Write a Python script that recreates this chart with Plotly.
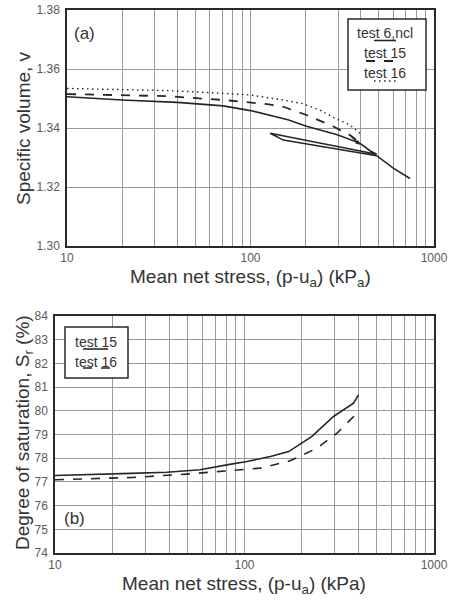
import numpy as np
import plotly.graph_objects as go

# ---------------- data ----------------
# (a) specific volume vs mean net stress
t6_p = [10, 20, 40, 71, 100, 128, 160, 200, 300, 396, 450, 487,
        128, 151, 230, 307, 412, 487, 600, 740]
t6_v = [1.3506, 1.3495, 1.3487, 1.3475, 1.3459, 1.3444, 1.3428, 1.3407, 1.3376, 1.3348, 1.3322, 1.3311,
        1.3382, 1.3359, 1.3340, 1.3328, 1.3314, 1.3306, 1.3264, 1.3229]

t15a_p = [10, 20, 35, 71, 99, 123, 151, 202, 283, 348, 387, 395]
t15a_v = [1.3515, 1.3512, 1.3508, 1.3495, 1.3486, 1.3481, 1.3472, 1.3444, 1.3405, 1.3376, 1.3354, 1.3343]

t16a_p = [10, 20, 35, 60, 99, 151, 194, 240, 283, 348, 395]
t16a_v = [1.3534, 1.3531, 1.3527, 1.3520, 1.3512, 1.3495, 1.3482, 1.3460, 1.3436, 1.3410, 1.3382]

# (b) degree of saturation vs mean net stress
t15b_p = [10, 17.3, 25, 38.9, 58.3, 80.7, 103, 137, 171, 227, 295, 376, 400]
t15b_s = [77.27, 77.31, 77.36, 77.41, 77.51, 77.72, 77.86, 78.07, 78.28, 78.92, 79.76, 80.32, 80.67]

t16b_p = [10, 25.9, 49.6, 87.5, 121, 174, 241, 308, 392]
t16b_s = [77.09, 77.19, 77.33, 77.47, 77.58, 77.89, 78.42, 79.06, 79.90]

x_tickvals = [10, 100, 1000]
x_ticktext = ["10", "100", "1000"]
x_minor = [20, 30, 40, 50, 60, 70, 80, 90, 200, 300, 400, 500, 600, 700, 800, 900]
ya_tickvals = [1.30, 1.32, 1.34, 1.36, 1.38]
yb_tickvals = list(range(74, 85))

# ---------------- figure ----------------
W, H = 449, 605
def px(x):
    return x / W
def py(y):
    return 1 - y / H

LINE = "#262626"
GRID = "#9a9a9a"
FRAME = "#2a2a2a"
TXT = "#333333"
TICK = "#5a5a5a"
FONT = "Liberation Sans, Arial, sans-serif"
DOT = "1.5px,3.5px"

fig = go.Figure()
fig.add_trace(go.Scatter(x=t6_p, y=t6_v, mode="lines", line=dict(color=LINE, width=1.6),
                         xaxis="x", yaxis="y", showlegend=False))
fig.add_trace(go.Scatter(x=t15a_p, y=t15a_v, mode="lines", line=dict(color=LINE, width=1.8, dash="dash"),
                         xaxis="x", yaxis="y", showlegend=False))
fig.add_trace(go.Scatter(x=t16a_p, y=t16a_v, mode="lines", line=dict(color=LINE, width=1.4, dash=DOT),
                         xaxis="x", yaxis="y", showlegend=False))
fig.add_trace(go.Scatter(x=t15b_p, y=t15b_s, mode="lines", line=dict(color=LINE, width=1.6),
                         xaxis="x2", yaxis="y2", showlegend=False))
fig.add_trace(go.Scatter(x=t16b_p, y=t16b_s, mode="lines", line=dict(color=LINE, width=1.6, dash="dash"),
                         xaxis="x2", yaxis="y2", showlegend=False))

def xaxis_cfg(domain, anchor):
    return dict(type="log", domain=domain, anchor=anchor, range=[1, 3],
                tickvals=x_tickvals, ticktext=x_ticktext, ticks="",
                showgrid=True, gridcolor=GRID, gridwidth=1,
                minor=dict(tickvals=x_minor, showgrid=True, gridcolor=GRID, gridwidth=1, ticks=""),
                showline=True, linecolor=FRAME, linewidth=1.5, mirror=True,
                tickfont=dict(family=FONT, size=12, color=TICK), zeroline=False, automargin=False)

def yaxis_cfg(domain, anchor, rng, vals, fmt):
    return dict(domain=domain, anchor=anchor, range=rng, tickvals=vals, tickformat=fmt,
                ticks="outside", ticklen=3, tickcolor="rgba(0,0,0,0)",
                showgrid=True, gridcolor=GRID, gridwidth=1,
                showline=True, linecolor=FRAME, linewidth=1.5, mirror=True,
                tickfont=dict(family=FONT, size=12, color=TICK), zeroline=False, automargin=False)

fig.update_layout(
    width=W, height=H, margin=dict(l=0, r=0, t=0, b=0),
    paper_bgcolor="white", plot_bgcolor="white", template="none",
    xaxis=xaxis_cfg([px(67), px(434)], "y"),
    yaxis=yaxis_cfg([py(246), py(10)], "x", [1.30, 1.38], ya_tickvals, ".2f"),
    xaxis2=xaxis_cfg([px(55), px(434)], "y2"),
    yaxis2=yaxis_cfg([py(553), py(316)], "x2", [74, 84], yb_tickvals, "d"),
    showlegend=False,
)

ann = []
def txt(x, y, s, size, **kw):
    d = dict(xref="paper", yref="paper", x=x, y=y, text=s, showarrow=False,
             font=dict(family=FONT, size=size, color=TXT), xanchor="center", yanchor="middle")
    d.update(kw)
    ann.append(d)

# axis titles
txt(px(250), py(278), "Mean net stress, (p-u<sub>a</sub>) (kP<sub>a</sub>)", 19)
txt(px(244), py(585), "Mean net stress, (p-u<sub>a</sub>) (kPa)", 19)
txt(px(23), py(128), "Specific volume, v", 19, textangle=-90)
txt(px(24), py(433), "Degree of saturation, S<sub>r</sub> (%)", 19, textangle=-90)
# panel labels
txt(px(84), py(33), "(a)", 17)
txt(px(74), py(518), "(b)", 17)
# legend texts
txt(px(385), py(33), "test 6,ncl", 14)
txt(px(385), py(53), "test 15", 14)
txt(px(385), py(72.5), "test 16", 14)
txt(px(96), py(341.5), "test 15", 14)
txt(px(96), py(361.5), "test 16", 14)

# arrow at end of test 15 curve in (a)
ann.append(dict(xref="x", yref="y", axref="x", ayref="y",
                x=np.log10(t15a_p[-1]), y=t15a_v[-1],
                ax=np.log10(t15a_p[-3]), ay=t15a_v[-3],
                showarrow=True, arrowhead=2, arrowsize=0.8, arrowwidth=1.2,
                arrowcolor=LINE, text=""))
fig.update_layout(annotations=ann)

shapes = []
def box(x0, y0, x1, y1):
    shapes.append(dict(type="rect", xref="paper", yref="paper", x0=px(x0), x1=px(x1),
                       y0=py(y1), y1=py(y0), line=dict(color=FRAME, width=1.5),
                       fillcolor="white", layer="above"))
def seg(x0, x1, y, dash, width=1.6):
    shapes.append(dict(type="line", xref="paper", yref="paper", x0=px(x0), x1=px(x1),
                       y0=py(y), y1=py(y), line=dict(color=LINE, width=width, dash=dash), layer="above"))

box(348, 19, 426, 90)
seg(374, 396, 40.5, "solid")
seg(366, 401, 61, "dash", 1.8)
seg(374, 399, 81, DOT, 1.4)
box(65, 327, 128, 378)
seg(83, 108, 349, "solid")
seg(83, 110, 368, "dash")
fig.update_layout(shapes=shapes)

fig.write_html("out.html")
